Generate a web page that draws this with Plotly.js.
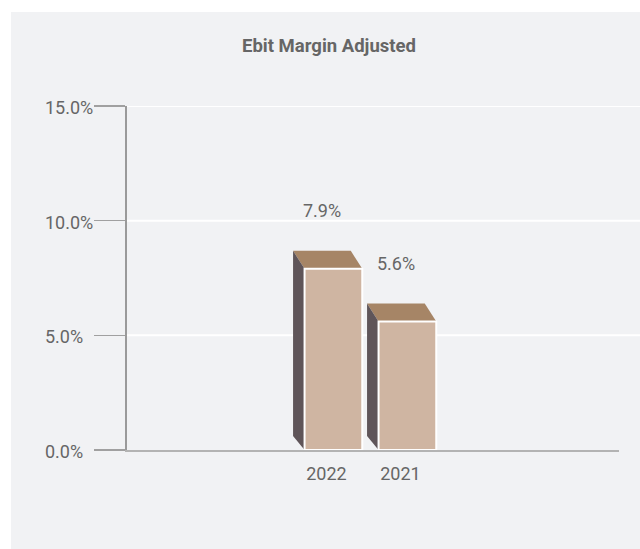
<!DOCTYPE html>
<html><head><meta charset="utf-8">
<script src="https://cdn.plot.ly/plotly-3.0.1.min.js"></script>
<style>html,body{margin:0;padding:0;background:#fff}</style>
</head><body><div id="chart" style="width:640px;height:549px"></div>
<script>
const categories = ["2022", "2021"];
const values = [7.9, 5.6];
const valueLabels = ["7.9%", "5.6%"];
const yTickVals = [0, 5, 10, 15];
const yTickText = ["0.0%", "5.0%", "10.0%", "15.0%"];

const W = 640, H = 549;
const margin = {l: 127, r: 21, t: 106, b: 99};
const plotW = W - margin.l - margin.r;
const plotH = H - margin.t - margin.b;
const xRange = [-2.79, 3.86];
const yRange = [0, 15];
const pxX = plotW / (xRange[1] - xRange[0]);
const pxY = plotH / (yRange[1] - yRange[0]);
const barW = 0.78;
const depthX = 11.5 / pxX, depthY = 18 / pxY, sideBottomY = 14 / pxY;
const xs = categories.map((c, i) => i);

const C = {bg: '#f1f2f4', front: '#cfb5a2', top: '#a68566', side: '#5f5559', text: '#666666'};
const font = 'Roboto, "Noto Sans", sans-serif';

const shapes = [];
// white outer strips (left and top) around the gray panel
shapes.push({type: 'rect', xref: 'paper', yref: 'paper', layer: 'below',
  x0: -margin.l / plotW - 0.02, x1: (11 - margin.l) / plotW,
  y0: -margin.b / plotH - 0.02, y1: (plotH + margin.t) / plotH + 0.02,
  fillcolor: '#ffffff', line: {width: 0}});
shapes.push({type: 'rect', xref: 'paper', yref: 'paper', layer: 'below',
  x0: -margin.l / plotW - 0.02, x1: (W - margin.l) / plotW + 0.02,
  y0: (plotH + margin.t - 12) / plotH, y1: (plotH + margin.t) / plotH + 0.02,
  fillcolor: '#ffffff', line: {width: 0}});
// white gridlines, running on to the right edge
yTickVals.filter(v => v > 0).forEach(v => shapes.push({type: 'line', xref: 'paper', yref: 'y', layer: 'below',
  x0: 0, x1: (W - margin.l) / plotW + 0.02, y0: v, y1: v, line: {color: '#ffffff', width: 2}}));
// 3D faces
values.forEach((v, i) => {
  const xl = xs[i] - barW / 2, xr = xs[i] + barW / 2;
  shapes.push({type: 'path', xref: 'x', yref: 'y', layer: 'between', fillcolor: C.top, line: {width: 0},
    path: `M ${xl},${v} L ${xr},${v} L ${xr - depthX},${v + depthY} L ${xl - depthX},${v + depthY} Z`});
  shapes.push({type: 'path', xref: 'x', yref: 'y', layer: 'between', fillcolor: C.side, line: {width: 0},
    path: `M ${xl},${v} L ${xl - depthX},${v + depthY} L ${xl - depthX},${sideBottomY} L ${xl},0 Z`});
});

const annotations = [];
values.forEach((v, i) => annotations.push({x: xs[i], y: v, xref: 'x', yref: 'y', text: valueLabels[i],
  showarrow: false, xshift: -11, yshift: 58, font: {family: font, size: 18, color: C.text}}));
yTickVals.forEach((v, i) => annotations.push({x: (43 - margin.l) / plotW, xref: 'paper', y: v, yref: 'y',
  text: yTickText[i], showarrow: false, xanchor: 'left', yanchor: 'middle', yshift: -1.5,
  font: {family: font, size: 18, color: C.text}}));

const data = [{type: 'bar', x: xs, y: values, width: barW, hoverinfo: 'none',
  marker: {color: C.front, line: {color: '#ffffff', width: 2}}}];

const layout = {
  width: W, height: H, margin: margin, showlegend: false,
  paper_bgcolor: C.bg, plot_bgcolor: 'rgba(0,0,0,0)',
  font: {family: font, color: C.text},
  title: {text: 'Ebit Margin Adjusted', x: 329 / W, xanchor: 'center', y: 1 - 46 / H, yanchor: 'middle',
    font: {family: font, size: 18.5, color: C.text, weight: 'bold'}},
  xaxis: {type: 'linear', range: xRange, tickvals: xs, ticktext: categories, showgrid: false, zeroline: false,
    showline: true, linecolor: '#b3b3b3', linewidth: 2, ticks: '', ticklabelshift: -7, ticklabelstandoff: 6,
    tickfont: {family: font, size: 18, color: C.text}, fixedrange: true},
  yaxis: {range: yRange, tickvals: yTickVals, showticklabels: false, ticks: 'outside', ticklen: 31,
    tickcolor: '#a0a0a0', tickwidth: 1.5, showline: true, linecolor: '#9a9a9a', linewidth: 2,
    showgrid: false, zeroline: false, fixedrange: true},
  shapes: shapes, annotations: annotations
};
Plotly.newPlot('chart', data, layout, {staticPlot: true, displayModeBar: false});
</script></body></html>
